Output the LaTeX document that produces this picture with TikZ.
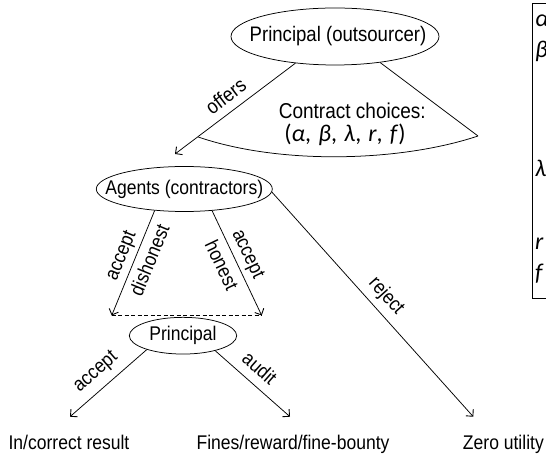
\documentclass[tikz,border=0pt]{standalone}
\usepackage{fontspec}
\setmainfont{Liberation Sans}[FakeStretch=0.885]
\newfontfamily\grkfont{Carlito}
\usetikzlibrary{arrows.meta,shapes.geometric}
\newcommand\zwbox[1]{\makebox[0pt]{#1}}
\newcommand\gsp{\hspace{0.3em}}
\tikzset{
  ell/.style={draw, ellipse, inner sep=0pt, line width=0.75pt, font=\fontsize{19.8}{23}\selectfont},
  conn/.style={line width=0.75pt, -{Straight Barb[length=5pt,width=10pt,line width=0.9pt]}},
  lbl/.style={font=\fontsize{19.8}{23}\selectfont, inner sep=1pt, sloped},
  txt/.style={font=\fontsize{19.8}{23}\selectfont, inner sep=0pt, anchor=base},
  grk/.style={font=\grkfont\itshape\fontsize{24}{28}\selectfont, inner sep=0pt, anchor=base west},
}
\begin{document}
\begin{tikzpicture}[x=1pt,y=1pt]
\useasboundingbox (0,0) rectangle (546,-454);
\clip (0,0) rectangle (546,-454);
% nodes
\node[ell, minimum width=208pt, minimum height=57pt, font=\fontsize{21}{24}\selectfont] (P1) at (335,-36.5) {\zwbox{\hspace{6pt}Principal (outsourcer)}};
\node[ell, minimum width=176pt, minimum height=45pt] (A) at (184.3,-189) {\zwbox{Agents (contractors)}};
\node[ell, minimum width=107.4pt, minimum height=36.7pt] (P2) at (183,-335.7) {\zwbox{Principal}};
\node[txt] (R1) at (69,-449) {In/correct result};
\node[txt] (R2) at (293,-449) {Fines/reward/fine-bounty};
\node[txt] (R3) at (503.4,-449) {Zero utility};
\node[font=\fontsize{21.5}{25}\selectfont, inner sep=0pt, anchor=base] (cc) at (352.3,-119) {Contract choices:};
\node[font=\grkfont\fontsize{24}{28}\selectfont, inner sep=0pt, anchor=base] (tup) at (345,-142) {(\textit{α},\gsp \textit{β},\gsp \textit{λ},\gsp \textit{r},\gsp \textit{f})};
% legend box (cut off at the right edge)
\node[draw, line width=0.75pt, minimum width=80pt, minimum height=295.6pt, anchor=north west, inner sep=0pt] (leg) at (531.7,-2.7) {};
\node[grk] (la) at (535,-27) {α};
\node[grk] (lb) at (535,-58) {β};
\node[grk] (ll) at (535,-177) {λ};
\node[grk] (lr) at (535,-250) {r};
\node[grk] (lf) at (535,-280) {f};
% coordinates
\coordinate (offE) at (175,-154);
\coordinate (cL) at (198.2,-137);
\coordinate (cR) at (478,-136);
\coordinate (dl) at (111.7,-315.5);
\coordinate (dr) at (261.7,-315.5);
\coordinate (t1) at (70,-416.7);
\coordinate (t2) at (290,-416.7);
\coordinate (t3) at (473.3,-416.7);
% contract fan
\draw[conn] (P1.214.7) -- node[lbl, above=7pt, font=\fontsize{20.3}{23}\selectfont] {offers} (offE);
\draw[line width=0.75pt] (P1.330.3) -- (cR);
\draw[line width=0.75pt] (cL) .. controls (280,-165) and (400,-162) .. (cR);
% agents
\draw[conn] (A.216.8) -- node[lbl, pos=0.48, above=3pt] {accept} node[lbl, pos=0.42, below=5pt] {dishonest} (dl);
\draw[conn] (A.322.9) -- node[lbl, pos=0.47, above=3pt] {accept} node[lbl, pos=0.46, below=5.5pt] {honest} (dr);
\draw[line width=0.75pt, dash pattern=on 4pt off 2.5pt] (dl) -- (dr);
\draw[conn] (A.358) -- node[lbl, pos=0.51, above=5pt] {reject} (t3);
% principal
\draw[conn] (P2.201.5) -- node[lbl, pos=0.52, above=6.5pt] {accept} (t1);
\draw[conn] (P2.335.6) -- node[lbl, pos=0.45, above=8pt] {audit} (t2);
\end{tikzpicture}
\end{document}
